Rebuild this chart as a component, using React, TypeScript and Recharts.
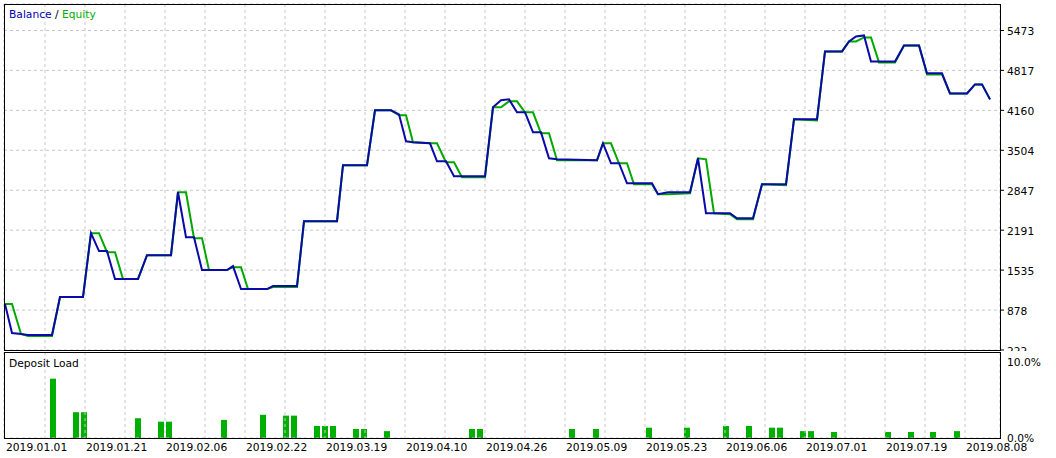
import { Bar, CartesianGrid, ComposedChart, Line, LineChart, XAxis, YAxis } from 'recharts';

// deal position along the tester's x axis (one unit per pixel of the original)
const steps = [
  0, 7, 16, 23, 47, 55, 78, 86, 94, 102, 110, 118, 133, 142, 166, 173, 181, 189, 197, 204,
  222, 228, 236, 243, 262, 268, 292, 299, 332, 338, 362, 370, 386, 394, 401, 408, 425, 432, 441, 449,
  457, 480, 488, 496, 504, 512, 520, 528, 536, 544, 552, 592, 598, 606, 614, 622, 629, 647, 653, 663,
  685, 693, 701, 709, 725, 732, 748, 757, 781, 789, 812, 820, 837, 844, 851, 859, 866, 874, 890, 899,
  914, 922, 937, 945, 962, 970, 977, 985
];

const balance = [
  977, 501, 485, 468, 468, 1092, 1092, 2142, 1847, 1847, 1387, 1387, 1387, 1781, 1781, 2815, 2076, 2076, 1535, 1535,
  1535, 1600, 1223, 1223, 1223, 1272, 1272, 2339, 2339, 3258, 3258, 4160, 4160, 4095, 3652, 3635, 3619, 3323, 3323, 3077,
  3077, 3077, 4210, 4325, 4341, 4128, 4128, 3799, 3799, 3373, 3356, 3340, 3619, 3291, 3291, 2962, 2962, 2962, 2782, 2815,
  2815, 3373, 2470, 2470, 2470, 2388, 2388, 2946, 2946, 4013, 4013, 5129, 5129, 5293, 5375, 5391, 4964, 4964, 4964, 5227,
  5227, 4768, 4768, 4439, 4439, 4587, 4587, 4341
];

const equity = [
  977, 977, 485, 452, 452, 1092, 1092, 2142, 2142, 1830, 1830, 1387, 1387, 1781, 1781, 2815, 2815, 2060, 2060, 1535,
  1535, 1584, 1584, 1223, 1223, 1256, 1256, 2339, 2339, 3258, 3258, 4160, 4160, 4078, 4078, 3635, 3619, 3619, 3307, 3307,
  3061, 3061, 4210, 4210, 4308, 4308, 4128, 4128, 3783, 3783, 3340, 3340, 3619, 3619, 3291, 3291, 2946, 2946, 2782, 2782,
  2798, 3373, 3356, 2470, 2454, 2372, 2372, 2946, 2930, 4013, 3996, 5129, 5129, 5293, 5293, 5358, 5358, 4948, 4948, 5227,
  5227, 4751, 4751, 4439, 4439, 4587, 4587, 4341
];

const loadSteps = [
  48, 71, 79, 133, 156, 164, 219, 258, 281, 289, 312, 320, 328, 351, 359, 382, 467,
  475, 567, 591, 644, 682, 721, 744, 767, 775, 798, 806, 829, 883, 906, 928, 952
];
const loadValues = [
  6.9, 3.0, 3.0, 2.3, 1.9, 1.9, 2.1, 2.7, 2.6, 2.6, 1.4, 1.4, 1.4, 1.05, 1.05, 0.8, 1.05,
  1.05, 1.05, 1.05, 1.2, 1.2, 1.4, 1.4, 1.2, 1.2, 0.8, 0.8, 0.7, 0.7, 0.7, 0.7, 0.8
];

const balanceTicks = [222, 878, 1535, 2191, 2847, 3504, 4160, 4817, 5473];
const loadTicks = [0, 10];
const gridSteps = [
  40, 80, 120, 160, 200, 240, 280, 320, 360, 400, 440, 480,
  520, 560, 600, 640, 680, 720, 760, 800, 840, 880, 920, 960
];
const labelSteps = [0, 80, 160, 240, 320, 400, 480, 560, 640, 720, 800, 880, 960];
const dateLabels = [
  '2019.01.01', '2019.01.21', '2019.02.06', '2019.02.22', '2019.03.19', '2019.04.10', '2019.04.26',
  '2019.05.09', '2019.05.23', '2019.06.06', '2019.07.01', '2019.07.19', '2019.08.08'
];

const FONT = '"DejaVu Sans", Verdana, sans-serif';
const FONT_SIZE = 10.7;
const BLUE = '#0a0aa8';
const GREEN = '#00a800';
const BAR_GREEN = '#00b000';
const GRID = '#c8c8c8';
const X_DOMAIN: [number, number] = [-1, 995];
// main plot runs down through the deposit panel so its vertical grid covers both panels
const BALANCE_DOMAIN: [number, number] = [-1224, 5908];

const lineData = steps.map((step, i) => ({ step, balance: balance[i], equity: equity[i] }));
const loadData = loadSteps.map((step, i) => ({ step, load: loadValues[i] }));

// grid-only axis: ticks must exist for CartesianGrid, but draw nothing
const NoTick = () => <g />;

const BalanceTick = (props: any) => {
  const { x, y, payload } = props;
  const isLowest = payload.value === balanceTicks[0];
  return (
    <g>
      <defs>
        <clipPath id="balance-label-clip">
          <rect x={x} y={0} width={60} height={351} />
        </clipPath>
      </defs>
      <line x1={x + 1} x2={x + 4} y1={y} y2={y} stroke="#000" />
      <text
        x={x + 7}
        y={y + 4.5}
        fontFamily={FONT}
        fontSize={FONT_SIZE}
        fill="#000"
        clipPath={isLowest ? 'url(#balance-label-clip)' : undefined}
      >
        {payload.value}
      </text>
    </g>
  );
};

const LoadTick = (props: any) => {
  const { x, y, payload } = props;
  const dy = payload.value === 10 ? 14 : 4;
  return (
    <text x={x + 7} y={y + dy} fontFamily={FONT} fontSize={FONT_SIZE} fill="#000">
      {payload.value.toFixed(1)}%
    </text>
  );
};

const DateTick = (props: any) => {
  const { x, y, payload } = props;
  const idx = labelSteps.indexOf(payload.value);
  if (idx < 0) return <g />;
  return (
    <text x={x + 1} y={y + 13} fontFamily={FONT} fontSize={FONT_SIZE} fill="#000">
      {dateLabels[idx]}
    </text>
  );
};

const App = () => {
  return (
    <div
      style={{
        position: 'absolute',
        left: 0,
        top: 0,
        width: 1056,
        height: 458,
        background: '#fff',
        fontFamily: FONT,
        overflow: 'hidden'
      }}
    >
      {/* deposit load panel sits underneath */}
      <div style={{ position: 'absolute', left: 0, top: 340 }}>
        <ComposedChart width={1056} height={118} data={loadData} margin={{ top: 12, right: 6, bottom: 0, left: 4 }}>
          <XAxis
            dataKey="step"
            type="number"
            domain={X_DOMAIN}
            ticks={labelSteps}
            interval={0}
            tickSize={0}
            tickMargin={0}
            tickLine={false}
            axisLine={false}
            height={20}
            tick={DateTick}
            allowDataOverflow
          />
          <YAxis
            orientation="right"
            domain={[0, 10]}
            ticks={loadTicks}
            interval={0}
            width={50}
            tickSize={0}
            tickMargin={0}
            axisLine={false}
            tickLine={false}
            tick={LoadTick}
            allowDataOverflow
          />
          <Bar dataKey="load" fill={BAR_GREEN} barSize={6} isAnimationActive={false} />
        </ComposedChart>
      </div>

      {/* balance / equity chart on top, its grid reaching down through the deposit panel */}
      <div style={{ position: 'absolute', left: 0, top: 0 }}>
        <LineChart width={1056} height={458} data={lineData} margin={{ top: 4, right: 6, bottom: 20, left: 4 }}>
          <CartesianGrid stroke={GRID} strokeDasharray="3 3" />
          <XAxis
            dataKey="step"
            type="number"
            domain={X_DOMAIN}
            ticks={gridSteps}
            interval={0}
            tick={NoTick}
            tickLine={false}
            axisLine={false}
            height={0}
            allowDataOverflow
          />
          <YAxis
            orientation="right"
            domain={BALANCE_DOMAIN}
            ticks={balanceTicks}
            interval={0}
            width={50}
            tickSize={0}
            tickMargin={0}
            axisLine={false}
            tickLine={false}
            tick={BalanceTick}
            allowDataOverflow
          />
          <Line type="linear" dataKey="equity" stroke={GREEN} strokeWidth={2} dot={false} activeDot={false} isAnimationActive={false} />
          <Line type="linear" dataKey="balance" stroke={BLUE} strokeWidth={2} dot={false} activeDot={false} isAnimationActive={false} />
        </LineChart>
      </div>

      {/* panel frames; the strip between them hides the grid */}
      <div style={{ position: 'absolute', left: 4, top: 351, width: 997, height: 1, background: '#fff' }} />
      <div style={{ position: 'absolute', left: 4, top: 4, width: 995, height: 345, border: '1px solid #000', pointerEvents: 'none' }} />
      <div style={{ position: 'absolute', left: 4, top: 352, width: 995, height: 85, border: '1px solid #000', pointerEvents: 'none' }} />

      <svg width={1056} height={458} style={{ position: 'absolute', left: 0, top: 0, pointerEvents: 'none' }}>
        <text x={9} y={18} fontFamily={FONT} fontSize={FONT_SIZE}>
          <tspan fill="#0000b4">Balance</tspan>
          <tspan fill="#000"> / </tspan>
          <tspan fill="#00b000">Equity</tspan>
        </text>
        <text x={9} y={367} fontFamily={FONT} fontSize={FONT_SIZE} fill="#000">
          Deposit Load
        </text>
      </svg>
    </div>
  );
};

export default App;
